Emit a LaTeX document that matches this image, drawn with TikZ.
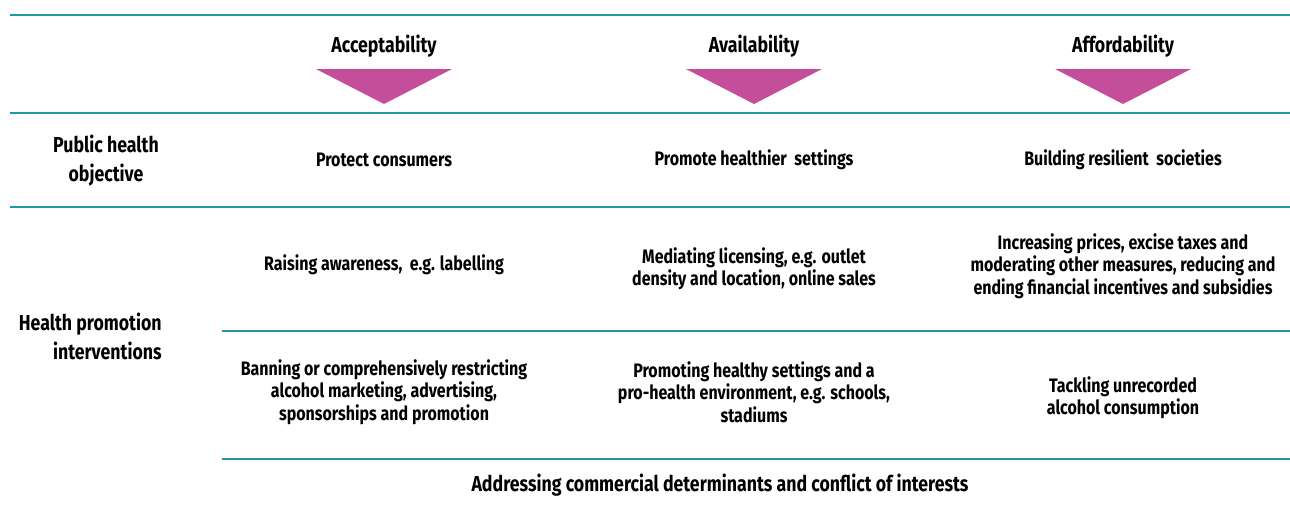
\documentclass[tikz,border=0pt]{standalone}
\usepackage{fontspec}
\setmainfont{Fira Sans}[FakeStretch=0.82]
\usepackage{xcolor}
\usetikzlibrary{positioning}
\definecolor{ruleteal}{HTML}{23989B}
\definecolor{arrowpink}{HTML}{C44E99}
\tikzset{
    hrule/.style={draw=ruleteal, line width=1.5pt},
    pointer/.style={fill=arrowpink},
    txt/.style={font=\bfseries\fontsize{11.1}{12.8}\selectfont, align=center, inner sep=0pt},
    headtxt/.style={txt, font=\bfseries\fontsize{12.3}{16.5}\selectfont},
    rowhead/.style={headtxt, align=right, anchor=east}
}

\begin{document}
\begin{tikzpicture}[x=0.02cm, y=-0.02cm]
    \useasboundingbox (0, 0) rectangle (1290, 507);
    % rules
    \draw[hrule] (10, 15) -- (1290, 15);
    \draw[hrule] (10, 113) -- (1290, 113);
    \draw[hrule] (10, 207) -- (1290, 207);
    \draw[hrule] (222, 331) -- (1290, 331);
    \draw[hrule] (222, 459) -- (1290, 459);
    % column heads
    \node[headtxt] (acc) at (384, 46) {Acceptability};
    \node[headtxt] (ava) at (754, 46) {Availability};
    \node[headtxt] (aff) at (1123, 46) {Affordability};
    \fill[pointer] (316, 69) -- (452, 69) -- (384, 104) -- cycle;
    \fill[pointer] (686, 69) -- (822, 69) -- (754, 104) -- cycle;
    \fill[pointer] (1055, 69) -- (1191, 69) -- (1123, 104) -- cycle;
    % objective row
    \node[headtxt] (obj) at (106, 161) {Public health\\objective};
    \node[txt] (protect) at (384, 160) {Protect consumers};
    \node[txt] (promote) at (754, 160) {Promote healthier\ \ settings};
    \node[txt] (build) at (1123, 160) {Building resilient\ \ societies};
    % interventions
    \node[rowhead] (hpi) at (162, 336) {Health promotion\\interventions};
    \node[txt] (raise) at (384, 265) {Raising awareness,\ \ e.g. labelling};
    \node[txt] (mediate) at (754, 269) {Mediating licensing, e.g. outlet\\density and location, online sales};
    \node[txt] (prices) at (1123, 266) {Increasing prices, excise taxes and\\moderating other measures, reducing and\\ending financial incentives and subsidies};
    \node[txt] (ban) at (384, 392) {Banning or comprehensively restricting\\alcohol marketing, advertising,\\sponsorships and promotion};
    \node[txt] (settings) at (754, 392) {Promoting healthy settings and a\\pro-health environment, e.g. schools,\\stadiums};
    \node[txt] (unrec) at (1123, 398) {Tackling unrecorded\\alcohol consumption};
    \node[headtxt] (commercial) at (720, 485) {Addressing commercial determinants and conflict of interests};
\end{tikzpicture}
\end{document}
